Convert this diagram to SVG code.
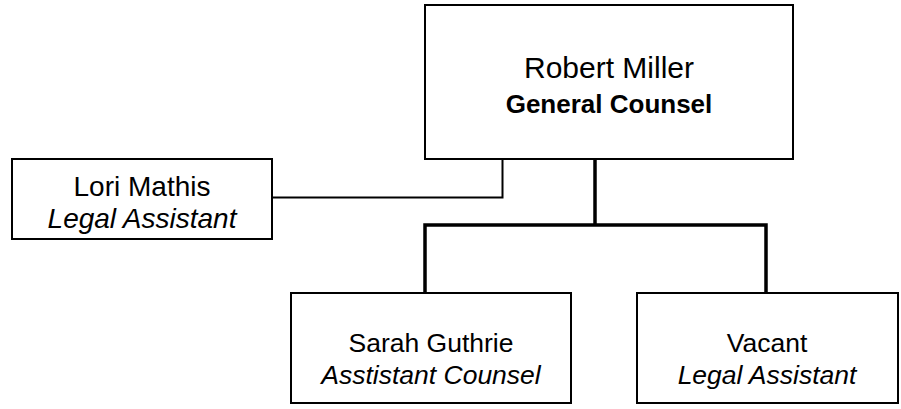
<svg xmlns="http://www.w3.org/2000/svg" width="901" height="409" viewBox="0 0 901 409">
<style>
.box{fill:#fff;stroke:#000;stroke-width:2}
.t{font-family:"Liberation Sans",Arial,sans-serif;fill:#000;text-anchor:middle}
.i{font-style:italic}
.b{font-weight:bold}
.thin{fill:none;stroke:#000;stroke-width:2}
.thick{fill:none;stroke:#000;stroke-width:3.5}
</style>
<rect width="901" height="409" fill="#fff"/>
<g id="connectors">
<polyline class="thin" points="272,197.5 502.5,197.5 502.5,159"/>
<polyline class="thick" points="595,159 595,225"/>
<polyline class="thick" points="425,294 425,225 766,225 766,294"/>
</g>
<g id="robert">
<rect class="box" x="425" y="5" width="368" height="154"/>
<text class="t" x="609" y="78" font-size="30">Robert Miller</text>
<text class="t b" x="609" y="113" font-size="26">General Counsel</text>
</g>
<g id="lori">
<rect class="box" x="12" y="159" width="260" height="80"/>
<text class="t" x="142" y="196" font-size="28">Lori Mathis</text>
<text class="t i" x="142" y="228" font-size="28">Legal Assistant</text>
</g>
<g id="sarah">
<rect class="box" x="291" y="293" width="280" height="110"/>
<text class="t" x="431" y="352" font-size="26.5">Sarah Guthrie</text>
<text class="t i" x="431" y="384" font-size="26.5">Asstistant Counsel</text>
</g>
<g id="vacant">
<rect class="box" x="637" y="293" width="261" height="110"/>
<text class="t" x="767" y="352" font-size="26.5">Vacant</text>
<text class="t i" x="767" y="384" font-size="26.5">Legal Assistant</text>
</g>
</svg>
